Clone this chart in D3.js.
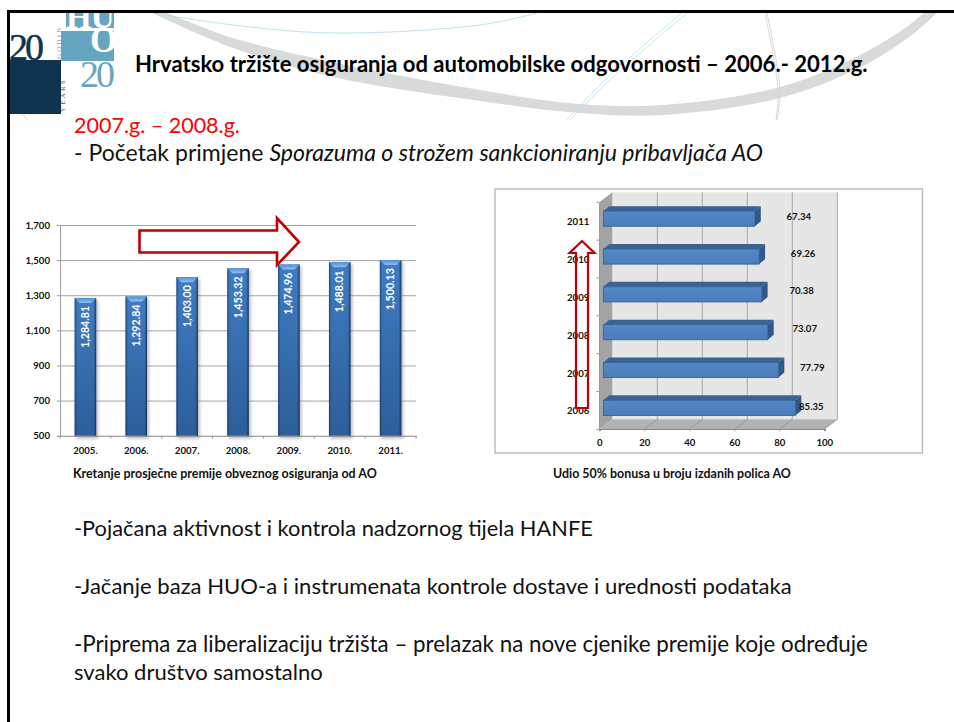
<!DOCTYPE html>
<html>
<head>
<meta charset="utf-8">
<script src="https://cdnjs.cloudflare.com/ajax/libs/d3/7.8.5/d3.min.js"></script>
<style>
  html, body { margin: 0; padding: 0; background: #fff; }
  svg { display: block; }
  text { font-family: Lato, "Open Sans", sans-serif; }
  .domain { shape-rendering: crispEdges; }
  .small { font-size: 9.6px; font-weight: 700; fill: #111; }
</style>
</head>
<body>
<svg id="slide" width="954" height="722"></svg>
<script>
(function() {
  'use strict';

  var premiumYears = ['2005.', '2006.', '2007.', '2008.', '2009.', '2010.', '2011.'];
  var premiumValues = [1284.81, 1292.84, 1403.00, 1453.32, 1474.96, 1488.01, 1500.13];
  var premiumTicks = [500, 700, 900, 1100, 1300, 1500, 1700];

  var bonusYears = ['2011', '2010', '2009', '2008', '2007', '2006'];
  var bonusValues = [67.34, 69.26, 70.38, 73.07, 77.79, 85.35];
  var bonusTicks = [0, 20, 40, 60, 80, 100];

  var titleText = 'Hrvatsko tržište osiguranja od automobilske odgovornosti – 2006.- 2012.g.';
  var periodText = '2007.g. – 2008.g.';
  var premiumCaption = 'Kretanje prosječne premije obveznog osiguranja od AO';
  var bonusCaption = 'Udio 50% bonusa u broju izdanih polica AO';

  var svg = d3.select('#slide');
  var defs = svg.append('defs');

  // scale font size until the text takes the measured width of the original
  var fit = function(sel, width) {
    var size = parseFloat(sel.style('font-size'));
    sel.style('font-size', (size * width / sel.node().getComputedTextLength()) + 'px');
    return sel;
  };

  /* ---------- slide background ---------- */
  var curve = d3.line().curve(d3.curveCatmullRom.alpha(0.5));
  var thin = function(points, color, w) {
    svg.append('path').attr('d', curve(points)).attr('fill', 'none')
      .attr('stroke', color).attr('stroke-width', w);
  };

  svg.append('path')
    .attr('fill', '#d9dbda')
    .attr('d', curve([[150, 12], [233, 48], [333, 77], [480, 101], [580, 113], [663, 115], [780, 98], [863, 66], [913, 34], [938, 12]]) +
      'L' + curve([[925, 12], [905, 28], [860, 55], [780, 87], [663, 105], [580, 104], [480, 90], [333, 62], [233, 38], [165, 12]]).slice(1) + 'Z');

  thin([[153, 13], [233, 25], [333, 33], [480, 25], [537, 13]], '#a9d9e6', 0.8);
  thin([[687, 13], [613, 77], [570, 120]], '#b5e0ec', 0.8);
  thin([[682, 13], [608, 77], [567, 120]], '#b5e0ec', 0.8);
  thin([[765, 13], [778, 90], [776, 120]], '#cfcfcf', 0.8);
  thin([[767, 13], [780, 90], [777, 120]], '#cfcfcf', 0.8);
  thin([[22, 114], [28, 120]], '#cfcfcf', 0.8);

  /* ---------- logo ---------- */
  var clip = function(id, x, y, w, h) {
    defs.append('clipPath').attr('id', id).append('rect')
      .attr('x', x).attr('y', y).attr('width', w).attr('height', h);
  };
  clip('logoTop', 66, 12, 48, 16);
  clip('logoDark', 8, 12, 54, 48);

  var serif = function(t, x, y, size, color, spacing, clipId) {
    return svg.append('text').text(t)
      .attr('x', x).attr('y', y)
      .attr('clip-path', clipId ? 'url(#' + clipId + ')' : null)
      .style('font-family', '"Liberation Serif", serif')
      .style('font-size', size + 'px')
      .style('letter-spacing', spacing + 'px')
      .style('fill', color);
  };

  svg.append('rect').attr('x', 66).attr('y', 12).attr('width', 48).attr('height', 16).attr('fill', '#66a5bf');
  svg.append('rect').attr('x', 61).attr('y', 31).attr('width', 53).attr('height', 30).attr('fill', '#66a5bf');
  svg.append('rect').attr('x', 8).attr('y', 60).attr('width', 53).attr('height', 54).attr('fill', '#10344f');
  serif('HU', 66, 28, 33, '#fff', -1, 'logoTop').style('font-weight', 700);
  serif('O', 90, 52, 35, '#fff', 0).style('font-weight', 700);
  serif('20', 9, 60, 38, '#10344f', -3, 'logoDark').style('stroke', '#10344f').style('stroke-width', 0.5);
  serif('20', 80, 87, 38, '#66a5bf', -3);
  serif('YEARS', 0, 0, 7, '#555', 2.2).attr('transform', 'translate(65,112) rotate(-90)');
  serif('GODIN', 0, 0, 7, '#7d9aa8', 2.2).attr('transform', 'translate(61,59) rotate(-90)');

  /* ---------- slide frame ---------- */
  svg.append('rect').attr('x', 7).attr('y', 10).attr('width', 947).attr('height', 3).attr('fill', '#000');
  svg.append('rect').attr('x', 7).attr('y', 10).attr('width', 3).attr('height', 712).attr('fill', '#000');

  /* ---------- slide text ---------- */
  var line = function(t, y, width, color) {
    return fit(svg.append('text').text(t).attr('x', 74).attr('y', y)
      .style('font-size', '20px').style('fill', color || '#111'), width);
  };

  fit(svg.append('text').text(titleText).attr('x', 135).attr('y', 72)
    .style('font-size', '20px').style('font-weight', 700).style('fill', '#000'), 733);
  line(periodText, 132.5, 166, '#ff0000');

  var sub = svg.append('text').attr('x', 74).attr('y', 161)
    .style('font-size', '20px').style('fill', '#111');
  sub.append('tspan').text('- Početak primjene ');
  sub.append('tspan').text('Sporazuma o strožem sankcioniranju pribavljača AO').style('font-style', 'italic');
  fit(sub, 689);

  line('-Pojačana aktivnost i kontrola nadzornog tijela HANFE', 536, 519);
  line('-Jačanje baza HUO-a i instrumenata kontrole dostave i urednosti podataka', 594, 718);
  line('-Priprema za liberalizaciju tržišta – prelazak na nove cjenike premije koje određuje', 652, 794);
  line('svako društvo samostalno', 680, 249);

  /* ---------- left chart: column ---------- */
  var left = { x0: 60, x1: 416, y0: 435.7, y1: 225 };

  var x = d3.scaleBand().domain(premiumYears).range([left.x0, left.x1])
    .paddingInner(0.577).paddingOuter(0.288);
  var y = d3.scaleLinear().domain([500, 1700]).range([left.y0, left.y1]);

  var fillV = defs.append('linearGradient').attr('id', 'colFill').attr('x1', 0).attr('x2', 0).attr('y1', 0).attr('y2', 1);
  fillV.append('stop').attr('offset', 0).attr('stop-color', '#3f7cc2');
  fillV.append('stop').attr('offset', 1).attr('stop-color', '#2d5e9a');
  var edge = defs.append('linearGradient').attr('id', 'colEdge');
  edge.append('stop').attr('offset', 0).attr('stop-color', '#0d2a4d').attr('stop-opacity', 0.55);
  edge.append('stop').attr('offset', 0.12).attr('stop-color', '#0d2a4d').attr('stop-opacity', 0);
  edge.append('stop').attr('offset', 0.88).attr('stop-color', '#0d2a4d').attr('stop-opacity', 0);
  edge.append('stop').attr('offset', 1).attr('stop-color', '#0d2a4d').attr('stop-opacity', 0.8);
  var cap = defs.append('linearGradient').attr('id', 'colCap').attr('x1', 0).attr('x2', 0).attr('y1', 0).attr('y2', 1);
  cap.append('stop').attr('offset', 0).attr('stop-color', '#4f8fd2');
  cap.append('stop').attr('offset', 1).attr('stop-color', '#8cc0f0');
  defs.append('filter').attr('id', 'soft').attr('x', '-40%').attr('width', '180%').attr('y', '-10%').attr('height', '120%')
    .append('feGaussianBlur').attr('stdDeviation', 1.6);

  var yGrid = svg.append('g')
    .attr('transform', 'translate(' + left.x0 + ',0)')
    .call(d3.axisLeft(y).tickValues(premiumTicks).tickFormat(d3.format(',')).tickSize(3).tickPadding(7));
  yGrid.selectAll('text').attr('class', 'small');
  yGrid.selectAll('line').attr('stroke', '#999');
  yGrid.select('.domain').attr('stroke', '#a0a0a0');
  yGrid.selectAll('.tick').append('line')
    .attr('x1', 0).attr('x2', left.x1 - left.x0)
    .attr('stroke', '#a3a3a3').attr('stroke-width', 1);

  var xAxis = svg.append('g')
    .attr('transform', 'translate(0,' + left.y0 + ')')
    .call(d3.axisBottom(x).tickSize(0).tickPadding(11));
  xAxis.selectAll('text').attr('class', 'small');
  xAxis.select('.domain').attr('stroke', '#a0a0a0');
  // ticks sit between the categories
  xAxis.selectAll('line.sep')
    .data(premiumYears.concat(['end']))
    .enter().append('line').attr('class', 'sep')
    .attr('x1', function(d, i) { return left.x0 + i * x.step(); })
    .attr('x2', function(d, i) { return left.x0 + i * x.step(); })
    .attr('y1', 0).attr('y2', 3).attr('stroke', '#999');

  var columns = svg.selectAll('g.col')
    .data(premiumValues)
    .enter().append('g').attr('class', 'col')
    .attr('transform', function(d, i) { return 'translate(' + x(premiumYears[i]) + ',' + y(d) + ')'; });

  var bw = x.bandwidth();
  var colHeight = function(d) { return left.y0 - y(d); };

  columns.append('rect').attr('x', 1).attr('y', 2).attr('width', bw + 1).attr('height', function(d) { return colHeight(d) + 1; })
    .attr('fill', '#8a8a8a').attr('opacity', 0.55).attr('filter', 'url(#soft)');
  columns.append('rect').attr('width', bw).attr('height', colHeight).attr('fill', 'url(#colFill)');
  columns.append('rect').attr('width', bw).attr('height', colHeight).attr('fill', 'url(#colEdge)');
  columns.append('path').attr('d', 'M0,0H' + bw + 'L' + (bw - 5) + ',5H5Z').attr('fill', 'url(#colCap)');
  columns.append('text')
    .text(d3.format(',.2f'))
    .attr('transform', 'translate(' + (bw / 2 + 3.5) + ',29) rotate(-90)')
    .attr('text-anchor', 'middle')
    .style('font-size', '10.6px').style('font-weight', 700).style('fill', '#fff');

  fit(svg.append('text').text(premiumCaption).attr('x', 73).attr('y', 478).attr('class', 'small'), 304);

  // trend arrow
  svg.append('path')
    .attr('d', 'M139.5,230.5H277V218L299,242L277,265V252.5H139.5Z')
    .attr('fill', '#fff').attr('stroke', '#c00000').attr('stroke-width', 2.6);

  /* ---------- right chart: 3d bar ---------- */
  var frame = { x: 495, y: 189, w: 427.5, h: 264 };
  var plot = { x0: 599.3, x1: 824.3, y0: 429.3, y1: 202.3, dx: 13, dy: 10, inset: 4, barDx: 6, barDy: 5 };

  svg.append('rect').attr('x', frame.x).attr('y', frame.y).attr('width', frame.w).attr('height', frame.h)
    .attr('fill', '#fff').attr('stroke', '#b8b8b8').attr('stroke-width', 1.4);

  var bx = d3.scaleLinear().domain([0, 100]).range([plot.x0, plot.x1]);
  var by = d3.scaleBand().domain(bonusYears).range([plot.y1, plot.y0])
    .paddingInner(0.6).paddingOuter(0.3);

  var poly = function(pts, color) {
    svg.append('polygon').attr('points', pts.join(' ')).attr('fill', color);
  };
  poly([[plot.x0 + plot.dx, plot.y1 - plot.dy], [plot.x1 + plot.dx, plot.y1 - plot.dy], [plot.x1 + plot.dx, plot.y0 - plot.dy], [plot.x0 + plot.dx, plot.y0 - plot.dy]], '#e6e6e6');
  poly([[plot.x0, plot.y1], [plot.x0 + plot.dx, plot.y1 - plot.dy], [plot.x0 + plot.dx, plot.y0 - plot.dy], [plot.x0, plot.y0]], '#a3a3a3');
  poly([[plot.x0, plot.y0], [plot.x0 + plot.dx, plot.y0 - plot.dy], [plot.x1 + plot.dx, plot.y0 - plot.dy], [plot.x1, plot.y0]], '#b2b2b2');

  // gridlines on the back wall and the floor
  svg.selectAll('line.wall').data(bonusTicks.slice(1))
    .enter().append('line').attr('class', 'wall')
    .attr('x1', function(d) { return bx(d) + plot.dx; }).attr('x2', function(d) { return bx(d) + plot.dx; })
    .attr('y1', plot.y1 - plot.dy).attr('y2', plot.y0 - plot.dy)
    .attr('stroke', '#a8a8a8').attr('stroke-width', 1);
  svg.selectAll('line.floor').data(bonusTicks.slice(1))
    .enter().append('line').attr('class', 'floor')
    .attr('x1', function(d) { return bx(d) + plot.dx; }).attr('x2', function(d) { return bx(d); })
    .attr('y1', plot.y0 - plot.dy).attr('y2', plot.y0)
    .attr('stroke', '#8f8f8f').attr('stroke-width', 0.8);

  var bxAxis = svg.append('g')
    .attr('transform', 'translate(0,' + plot.y0 + ')')
    .call(d3.axisBottom(bx).tickValues(bonusTicks).tickSize(2).tickPadding(8));
  bxAxis.selectAll('text').attr('class', 'small');
  bxAxis.select('.domain').attr('stroke', '#888').attr('stroke-width', 1.4);
  bxAxis.selectAll('line').attr('stroke', '#999');

  var byAxis = svg.append('g')
    .attr('transform', 'translate(' + plot.x0 + ',0)')
    .call(d3.axisLeft(by).tickSize(0).tickPadding(10));
  byAxis.selectAll('text').attr('class', 'small').attr('dy', '0.42em');
  byAxis.select('.domain').attr('stroke', '#999');
  byAxis.selectAll('line.sep').data(bonusYears.concat(['end']))
    .enter().append('line').attr('class', 'sep')
    .attr('x1', -3).attr('x2', 0)
    .attr('y1', function(d, i) { return plot.y1 + i * by.step(); })
    .attr('y2', function(d, i) { return plot.y1 + i * by.step(); })
    .attr('stroke', '#999');

  var barFill = defs.append('linearGradient').attr('id', 'barFill').attr('x1', 0).attr('x2', 0).attr('y1', 0).attr('y2', 1);
  barFill.append('stop').attr('offset', 0).attr('stop-color', '#5388c6');
  barFill.append('stop').attr('offset', 1).attr('stop-color', '#4a7cb8');

  var bh = by.bandwidth();
  var bars = svg.selectAll('g.bar')
    .data(bonusValues)
    .enter().append('g').attr('class', 'bar')
    .attr('transform', function(d, i) { return 'translate(' + (plot.x0 + plot.inset) + ',' + (by(bonusYears[i]) - 2.5) + ')'; });
  var barLen = function(d) { return bx(d) - plot.x0; };

  bars.append('path')
    .attr('d', function(d) {
      var l = barLen(d);
      return 'M0,0L' + plot.barDx + ',' + (-plot.barDy) + 'H' + (l + plot.barDx) + 'L' + l + ',0Z';
    })
    .attr('fill', '#3b6291');
  bars.append('path')
    .attr('d', function(d) {
      var l = barLen(d);
      return 'M' + l + ',0L' + (l + plot.barDx) + ',' + (-plot.barDy) + 'V' + (bh - plot.barDy) + 'L' + l + ',' + bh + 'Z';
    })
    .attr('fill', '#30598a');
  bars.append('rect').attr('width', barLen).attr('height', bh)
    .attr('fill', 'url(#barFill)').attr('stroke', '#2f5f96').attr('stroke-width', 0.8);

  // value labels are placed by hand in the original, not at a fixed distance
  var labelShift = [44, 44, 40, 37, 34, 16];
  var labelRise = [2, 3, 3, 3, 2, 1];
  bars.append('text')
    .text(d3.format('.2f'))
    .attr('x', function(d, i) { return barLen(d) + labelShift[i]; })
    .attr('y', function(d, i) { return bh / 2 + 3 - labelRise[i]; })
    .attr('text-anchor', 'middle')
    .attr('class', 'small');

  fit(svg.append('text').text(bonusCaption).attr('x', 553).attr('y', 478).attr('class', 'small'), 238);

  // trend arrow, see-through like the original
  svg.append('path')
    .attr('d', 'M576,408V253H569.5L582,241L594.5,253H588V408Z')
    .attr('fill', 'none').attr('stroke', '#c00000').attr('stroke-width', 2.2);
})();
</script>
</body>
</html>
